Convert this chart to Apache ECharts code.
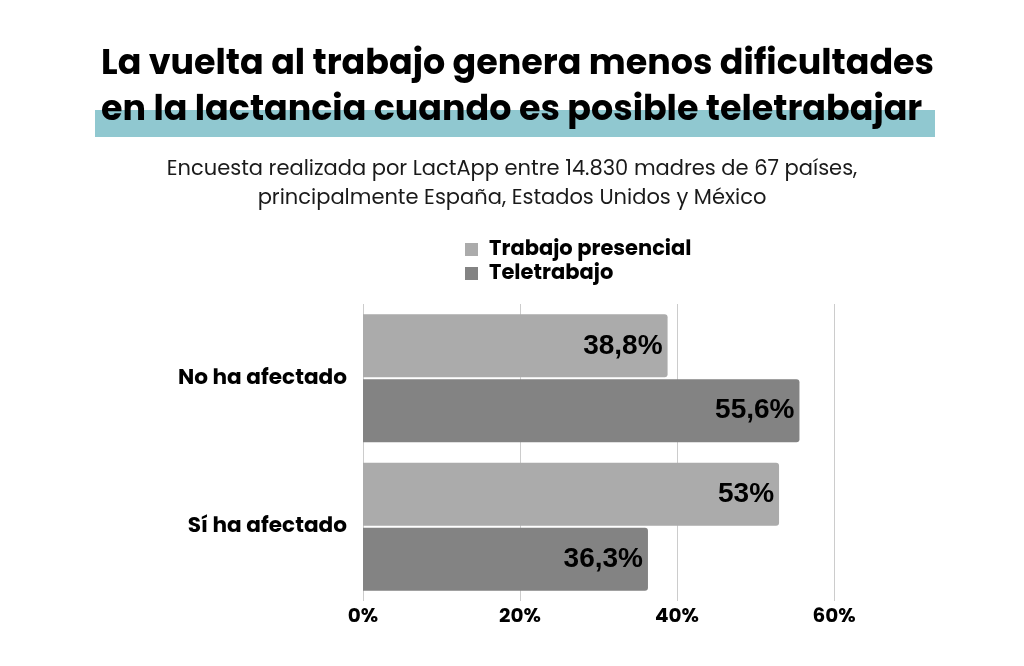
<!DOCTYPE html>
<html lang="es">
<head>
<meta charset="UTF-8">
<title>Lactancia y teletrabajo</title>
<script src="https://cdn.jsdelivr.net/npm/echarts@6/dist/echarts.min.js"></script>
<style>
  html, body { margin: 0; padding: 0; background: #fff; }
</style>
</head>
<body>
<div id="main" style="width:1024px;height:666px;"></div>
<script type="text/javascript">
// datos
var categorias = ['No ha afectado', 'Sí ha afectado'];
var presencial = [38.8, 53];
var teletrabajo = [55.6, 36.3];
var etiquetasX = ['0%', '20%', '40%', '60%'];

var fuente = 'Poppins, "Open Sans", "Noto Sans", sans-serif';
var myChart = echarts.init(document.getElementById('main'));

function fmt(p) {
  return String(p.value).replace('.', ',') + '%';
}

var etiquetaBarra = {
  show: true,
  position: 'insideRight',
  distance: 5,
  formatter: fmt,
  fontFamily: '"Liberation Sans", Arial, sans-serif',
  fontSize: 28,
  fontWeight: 700,
  color: '#000'
};

var option = {
  backgroundColor: '#fff',
  animation: false,
  title: [
    {
      text: 'La vuelta al trabajo genera menos dificultades\nen la lactancia cuando es posible teletrabajar',
      left: 96,
      top: 37,
      z: 10,
      textStyle: {
        fontFamily: fuente,
        fontSize: 34.9,
        fontWeight: 700,
        color: '#000',
        lineHeight: 46
      }
    },
    {
      text: 'Encuesta realizada por LactApp entre 14.830 madres de 67 países,\nprincipalmente España, Estados Unidos y México',
      left: 'center',
      top: 150,
      textStyle: {
        fontFamily: fuente,
        fontSize: 21,
        fontWeight: 400,
        color: '#1a1a1a',
        lineHeight: 29
      }
    }
  ],
  graphic: [
    {
      type: 'rect',
      z: 0,
      shape: { x: 95, y: 110, width: 840, height: 27 },
      style: { fill: '#90c8d0' }
    }
  ],
  legend: {
    orient: 'vertical',
    left: 460,
    top: 234,
    itemWidth: 13,
    itemHeight: 13,
    itemGap: 3,
    icon: 'rect',
    textStyle: {
      fontFamily: fuente,
      fontSize: 21,
      fontWeight: 700,
      color: '#000',
      padding: [0, 0, 0, 6]
    },
    data: ['Trabajo presencial', 'Teletrabajo']
  },
  grid: {
    left: 363,
    right: 190,
    top: 304,
    bottom: 65
  },
  xAxis: {
    type: 'value',
    min: 0,
    max: 60,
    interval: 20,
    axisLine: { show: false },
    axisTick: { show: false },
    splitLine: { lineStyle: { color: '#cccccc', width: 1 } },
    axisLabel: {
      margin: 6,
      fontFamily: fuente,
      fontSize: 20,
      fontWeight: 700,
      color: '#000',
      formatter: function (v) { return etiquetasX[v / 20]; }
    }
  },
  yAxis: {
    type: 'category',
    inverse: true,
    data: categorias,
    axisLine: { show: false },
    axisTick: { show: false },
    axisLabel: {
      margin: 16,
      fontFamily: fuente,
      fontSize: 21.6,
      fontWeight: 700,
      color: '#000'
    }
  },
  series: [
    {
      name: 'Trabajo presencial',
      type: 'bar',
      data: presencial,
      barWidth: 63,
      barGap: '3%',
      itemStyle: { color: '#ababab', borderRadius: [0, 3, 3, 0] },
      label: etiquetaBarra
    },
    {
      name: 'Teletrabajo',
      type: 'bar',
      data: teletrabajo,
      barWidth: 63,
      itemStyle: { color: '#838383', borderRadius: [0, 3, 3, 0] },
      label: etiquetaBarra
    }
  ]
};

myChart.setOption(option);
</script>
</body>
</html>
